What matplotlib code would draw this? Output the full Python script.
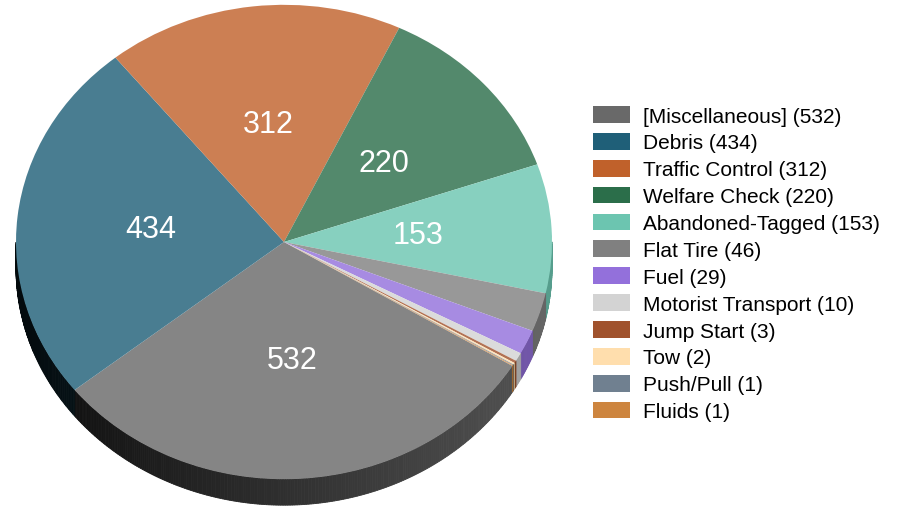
import numpy as np
import matplotlib
matplotlib.use("Agg")
import matplotlib.pyplot as plt
from matplotlib.colors import to_rgb
from matplotlib.patches import Patch

categories = ["[Miscellaneous]", "Debris", "Traffic Control", "Welfare Check",
              "Abandoned-Tagged", "Flat Tire", "Fuel", "Motorist Transport",
              "Jump Start", "Tow", "Push/Pull", "Fluids"]
counts = [532, 434, 312, 220, 153, 46, 29, 10, 3, 2, 1, 1]
colors = ["#696969", "#1f5f78", "#c0612b", "#2b6e4a", "#6cc5b0", "#808080",
          "#9370db", "#d3d3d3", "#a0522d", "#ffdead", "#708090", "#cd853f"]

plt.rcParams["font.family"] = ["Liberation Sans", "DejaVu Sans"]

W, H = 907, 510
squash = 0.885          # vertical tilt of the pie
cx, cy = 284, (H - 243) / squash
r = 268
depth = 26 / squash
total = sum(counts)


def lighten(c, w=0.187):
    c = np.array(to_rgb(c))
    return tuple(c + (1 - c) * w)


fig = plt.figure(figsize=(W / 100, H / 100), dpi=100)
ax = fig.add_axes([0, 0, 1, 1])

wedges, texts, autotexts = ax.pie(
    counts, colors=[lighten(c) for c in colors], startangle=-31.5,
    counterclock=False, center=(cx, cy), radius=r,
    autopct=lambda p: f"{round(p * total / 100)}" if p > 5 else "",
    pctdistance=0.5, textprops=dict(color="white", fontsize=22),
    wedgeprops=dict(linewidth=0))
for w in wedges:
    w.set_zorder(3)
for t in autotexts:
    t.set_zorder(4)

# side wall of the 3d pie, shaded dark on the left and lighter on the right
for w, c in zip(wedges, colors):
    base = np.array(to_rgb(c))
    n = max(int(abs(w.theta2 - w.theta1) / 0.5), 1)
    ts = np.radians(np.linspace(w.theta1, w.theta2, n + 1))
    for t0, t1 in zip(ts[:-1], ts[1:]):
        tm = (t0 + t1) / 2
        if np.sin(tm) > 0:
            continue
        shade = 0.1 + 0.7 * (1 + np.cos(tm)) / 2
        col = tuple(base * shade)
        x0, x1 = cx + r * np.cos(t0), cx + r * np.cos(t1)
        y0, y1 = cy + r * np.sin(t0), cy + r * np.sin(t1)
        ax.fill([x0, x1, x1, x0], [y0, y1, y1 - depth, y0 - depth],
                color=col, lw=0.6, zorder=1)

ax.set_xlim(0, W)
ax.set_ylim(0, H / squash)
ax.set_aspect("auto")
ax.axis("off")

handles = [Patch(facecolor=c, edgecolor="none") for c in colors]
labels = [f"{n} ({v})" for n, v in zip(categories, counts)]
fig.legend(handles, labels, loc="upper left",
           bbox_to_anchor=(593 / W, 1 - 107 / H), frameon=False,
           fontsize=15, handlelength=1.78, handleheight=0.86,
           handletextpad=0.62, labelspacing=0.35, borderpad=0,
           borderaxespad=0)

fig.savefig("out.png", dpi=100)
